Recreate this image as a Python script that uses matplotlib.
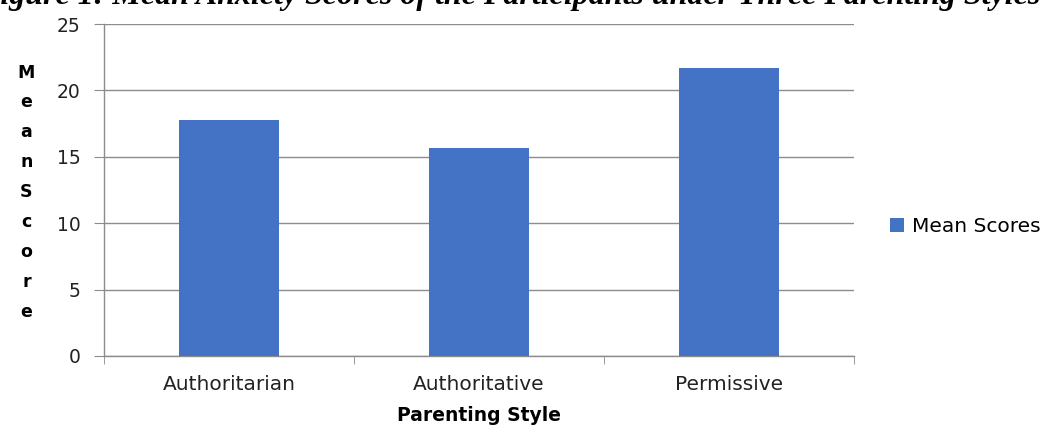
import matplotlib.pyplot as plt
import numpy as np

# data
styles = ["Authoritarian", "Authoritative", "Permissive"]
mean_scores = [17.8, 15.7, 21.7]
yticks = [0, 5, 10, 15, 20, 25]

bar_color = "#4472C4"
grid_color = "#8C8C8C"
font = ["DejaVu Sans"]
fs = 13.5

fig = plt.figure(figsize=(10.57, 4.25), dpi=100)
ax = fig.add_axes([0.0984, 0.1624, 0.7096, 0.7811])

x = np.arange(len(styles))
ax.bar(x, mean_scores, width=0.4, color=bar_color, label="Mean Scores", zorder=3)

ax.set_xlim(-0.5, len(styles) - 0.5)
ax.set_ylim(0, 25)
ax.set_yticks(yticks)
ax.set_yticklabels([str(t) for t in yticks], family=font, fontsize=fs, color="#222222")
ax.yaxis.grid(True, color=grid_color, linewidth=1.0, zorder=0)

# category labels between boundary ticks
ax.set_xticks(x)
ax.set_xticklabels(styles, family=font, fontsize=14.5, color="#222222")
ax.tick_params(axis="x", length=0, pad=14)
ax.set_xticks(np.arange(len(styles) + 1) - 0.5, minor=True)
ax.tick_params(axis="x", which="minor", length=6, color=grid_color, direction="out")
ax.tick_params(axis="y", length=7, color=grid_color, direction="out", pad=10)

for side in ["top", "right"]:
    ax.spines[side].set_visible(False)
for side in ["left", "bottom"]:
    ax.spines[side].set_color(grid_color)
    ax.spines[side].set_linewidth(1.0)

ax.set_xlabel("Parenting Style", family=font, fontsize=fs, fontweight="bold", labelpad=8)

# stacked vertical y label
ylab = "MeanScore"
fig.text(0.025, 0.548, "\n".join(ylab), family=font, fontsize=12.5, fontweight="bold",
         ha="center", va="center", linespacing=1.85)

# legend
handles, labels = ax.get_legend_handles_labels()
fig.legend(handles, labels, loc="center left", bbox_to_anchor=(0.825, 0.466), frameon=False,
           prop={"family": font, "size": 14.5}, handlelength=0.7, handleheight=0.7,
           handletextpad=0.4)

# title, clipped at the top edge as in the source
fig.text(1040 / 1057, 0.991, "Figure 1: Mean Anxiety Scores of the Participants under Three Parenting Styles",
         family=["Liberation Serif", "DejaVu Serif"], fontsize=23, fontweight="bold", style="italic",
         ha="right", va="baseline")

fig.savefig("out.png", dpi=100)
